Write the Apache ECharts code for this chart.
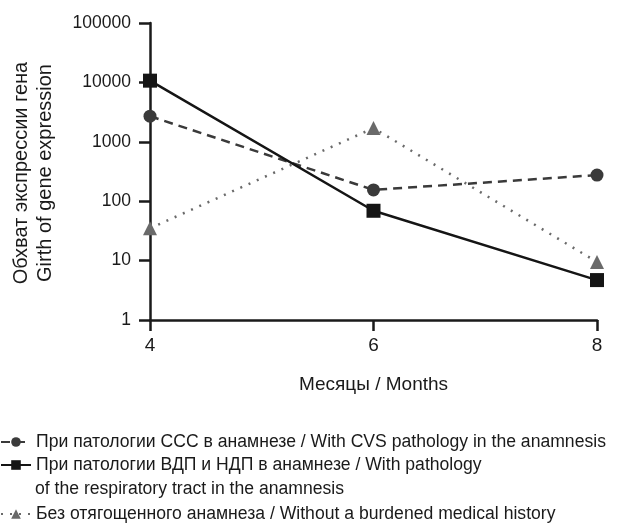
<!DOCTYPE html>
<html>
<head>
<meta charset="utf-8">
<script src="https://cdn.jsdelivr.net/npm/echarts@6/dist/echarts.min.js"></script>
<style>
  html, body { margin: 0; padding: 0; background: #fff; }
  #chart { width: 617px; height: 524px; }
</style>
</head>
<body>
<div id="chart"></div>
<script>
const months = [4, 6, 8];
const cvsValues = [2700, 155, 275];
const respValues = [10700, 69, 4.7];
const noHistoryValues = [35, 1700, 9.5];

const seriesNames = [
  'При патологии ССС в анамнезе / With CVS pathology in the anamnesis',
  'При патологии ВДП и НДП в анамнезе / With pathology',
  'Без отягощенного анамнеза / Without a burdened medical history',
];
const legendExtraLine = 'of the respiratory tract in the anamnesis';
const yTitle = 'Обхват экспрессии гена\nGirth of gene expression';
const xTitle = 'Месяцы / Months';

const font = '"Liberation Sans", Arial, sans-serif';
const ink = '#1a1a1a';

function pairs(vals) {
  return months.map((m, i) => [m, vals[i]]);
}

const chart = echarts.init(document.getElementById('chart'));
const legendText = { fontFamily: font, fontSize: 17.6, color: ink };
const option = {
  animation: false,
  textStyle: { fontFamily: font },
  grid: { left: 150, right: 20, top: 23, bottom: 204, containLabel: false },
  xAxis: {
    type: 'value',
    min: 4,
    max: 8,
    interval: 2,
    name: xTitle,
    nameLocation: 'middle',
    nameGap: 55,
    nameTextStyle: { fontFamily: font, fontSize: 19, color: ink },
    axisLine: { lineStyle: { color: ink, width: 2.5 } },
    axisTick: { show: true, length: 11, lineStyle: { color: ink, width: 2.5 } },
    axisLabel: { fontFamily: font, fontSize: 19, color: ink, margin: 16 },
    splitLine: { show: false },
  },
  yAxis: {
    type: 'log',
    logBase: 10,
    min: 1,
    max: 100000,
    axisLine: { show: true, lineStyle: { color: ink, width: 2.5 } },
    axisTick: { show: true, length: 11, lineStyle: { color: ink, width: 2.5 } },
    axisLabel: {
      fontFamily: font, fontSize: 17.5, color: ink, margin: 19,
      formatter: v => String(Math.round(v)),
    },
    minorTick: { show: false },
    splitLine: { show: false },
  },
  graphic: [
    {
      type: 'text',
      x: 33,
      y: 173,
      rotation: Math.PI / 2,
      style: {
        text: yTitle,
        font: '20px ' + font,
        fill: ink,
        align: 'center',
        verticalAlign: 'middle',
        lineHeight: 24,
      },
    },
    {
      type: 'text',
      x: 35,
      y: 489,
      style: {
        text: legendExtraLine,
        font: '17.6px ' + font,
        fill: ink,
        align: 'left',
        verticalAlign: 'middle',
      },
    },
  ],
  legend: [
    {
      data: [seriesNames[0], seriesNames[1]],
      orient: 'vertical',
      left: 0,
      top: 428,
      padding: [5, 5, 5, 0],
      itemGap: 5,
      itemWidth: 30,
      itemHeight: 12,
      textStyle: legendText,
    },
    {
      data: [seriesNames[2]],
      orient: 'vertical',
      left: 0,
      top: 500,
      padding: [5, 5, 5, 0],
      itemWidth: 30,
      itemHeight: 12,
      textStyle: legendText,
    },
  ],
  series: [
    {
      name: seriesNames[0],
      type: 'line',
      data: pairs(cvsValues),
      symbol: 'circle',
      symbolSize: 13,
      itemStyle: { color: '#3a3a3a' },
      lineStyle: { color: '#3a3a3a', width: 2.5, type: [9, 6] },
      z: 3,
    },
    {
      name: seriesNames[1],
      type: 'line',
      data: pairs(respValues),
      symbol: 'rect',
      symbolSize: 14,
      itemStyle: { color: '#151515' },
      lineStyle: { color: '#151515', width: 2.5, type: 'solid' },
      z: 4,
    },
    {
      name: seriesNames[2],
      type: 'line',
      data: pairs(noHistoryValues),
      symbol: 'triangle',
      symbolSize: 14,
      itemStyle: { color: '#6a6a6a' },
      lineStyle: { color: '#6a6a6a', width: 2.5, type: [2, 7] },
      z: 2,
    },
  ],
};
chart.setOption(option);
</script>
</body>
</html>
